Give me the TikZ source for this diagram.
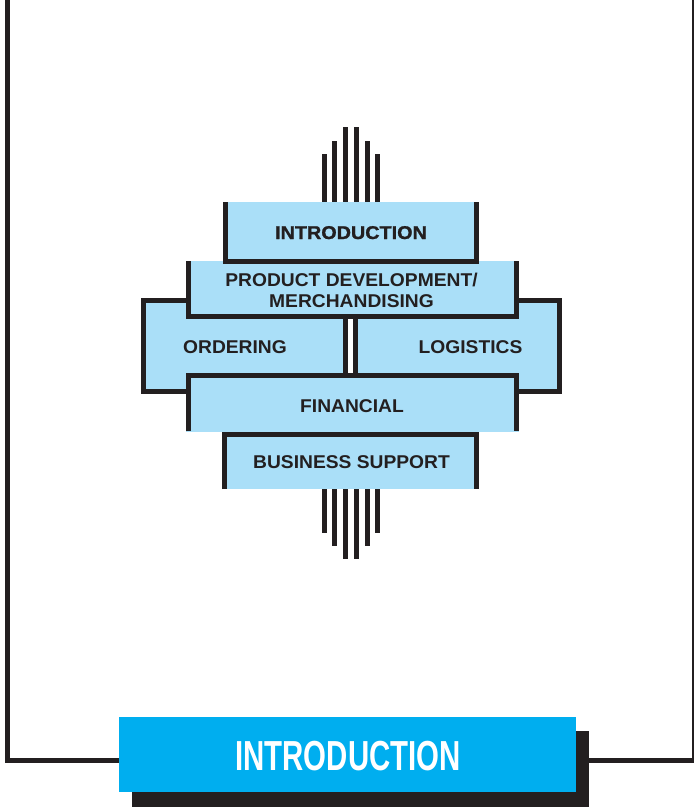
\documentclass[tikz,border=0pt]{standalone}
\usepackage{fontspec}
\setmainfont{Liberation Sans}
\newfontfamily\heavyfont[BoldFont={Liberation Sans Bold}, BoldFeatures={FakeBold=1.2}]{Liberation Sans}
\definecolor{ink}{HTML}{231F20}
\definecolor{pale}{RGB}{170,223,248}
\definecolor{cyanbar}{HTML}{00AEEF}
\begin{document}
\begin{tikzpicture}[x=1pt,y=-1pt,
  boxfill/.style={fill=pale, draw=none, inner sep=0pt, anchor=north west},
  edge/.style={draw=ink, line width=5.3pt, line join=miter, line cap=butt},
  frameline/.style={draw=ink, line width=5pt, line join=miter},
  lbl/.style={text=ink, font=\fontsize{18.5}{20}\selectfont\bfseries, anchor=base, inner sep=0pt},
  banner/.style={fill=cyanbar, draw=none, inner sep=0pt, anchor=north west}]
\useasboundingbox (0,0) rectangle (694,807);
% outer frame
\draw[frameline] (7,-5) -- (7,760.5) -- (694,760.5) -- (694,-5);
% bars
\foreach \dx/\top/\bot in {5.35/127/559, 16.05/141/546, 26.75/154/533}{
  \fill[ink] (351+\dx-2.5,\top) rectangle (351+\dx+2.5,203);
  \fill[ink] (351-\dx-2.5,\top) rectangle (351-\dx+2.5,203);
  \fill[ink] (351+\dx-2.5,488) rectangle (351+\dx+2.5,\bot);
  \fill[ink] (351-\dx-2.5,488) rectangle (351-\dx+2.5,\bot);
}
% ordering and logistics
\node[boxfill, minimum width=207pt, minimum height=96pt] (ord) at (141,298) {};
\draw[edge] (143.65,300.65) rectangle (345.35,391.35);
\node[boxfill, minimum width=209pt, minimum height=96pt] (log) at (353,298) {};
\draw[edge] (355.65,300.65) rectangle (559.35,391.35);
% product development
\node[boxfill, minimum width=333pt, minimum height=58pt] (pd) at (186,261) {};
\draw[edge] (188.65,261) -- (188.65,316.35) -- (516.35,316.35) -- (516.35,261);
% introduction
\node[boxfill, minimum width=256pt, minimum height=62pt] (intro) at (223,202) {};
\draw[edge] (225.65,202) -- (225.65,261.35) -- (476.35,261.35) -- (476.35,202);
% financial
\node[boxfill, minimum width=333pt, minimum height=59pt] (fin) at (186,373) {};
\draw[edge] (188.65,431) -- (188.65,375.65) -- (516.35,375.65) -- (516.35,431);
% business support
\node[boxfill, minimum width=257pt, minimum height=57pt] (bs) at (222,432) {};
\draw[edge] (224.65,489) -- (224.65,434.65) -- (476.35,434.65) -- (476.35,489);
% labels
\node[lbl, font=\fontsize{18.5}{20}\selectfont\heavyfont\bfseries] (tintro) at (351,239) {\scalebox{1.07}[1]{INTRODUCTION}};
\node[lbl] (tpd1) at (351.5,286.7) {\scalebox{1.04}[1]{PRODUCT DEVELOPMENT/}};
\node[lbl] (tpd2) at (351.5,307.3) {\scalebox{1.04}[1]{MERCHANDISING}};
\node[lbl] (tord) at (235,353.3) {\scalebox{1.04}[1]{ORDERING}};
\node[lbl] (tlog) at (470.5,353.3) {\scalebox{1.04}[1]{LOGISTICS}};
\node[lbl] (tfin) at (352,412.7) {\scalebox{1.04}[1]{FINANCIAL}};
\node[lbl] (tbs) at (351.5,468.3) {\scalebox{1.04}[1]{BUSINESS SUPPORT}};
% banner
\fill[ink] (132,731) rectangle (589,812);
\node[banner, minimum width=457pt, minimum height=75pt] (ban) at (119,717) {};
\node[anchor=base, inner sep=0pt, text=white, font=\fontsize{42}{42}\selectfont\bfseries] (tban) at (348,770) {\scalebox{0.70}[1]{INTRODUCTION}};
\end{tikzpicture}
\end{document}
